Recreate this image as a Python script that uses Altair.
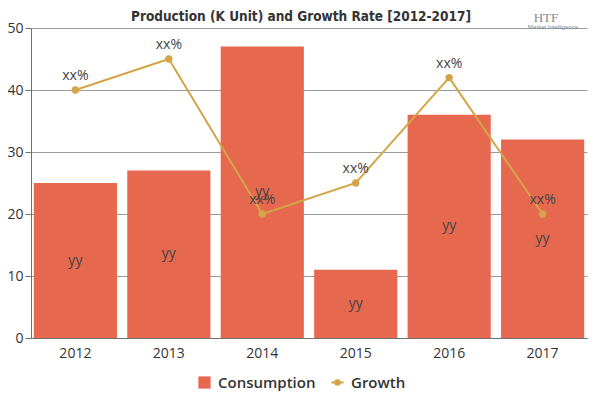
import altair as alt
import pandas as pd

title_text = "Production (K Unit) and Growth Rate [2012-2017]"
years = ["2012", "2013", "2014", "2015", "2016", "2017"]
consumption = [25, 27, 47, 11, 36, 32]
growth = [40, 45, 20, 25, 42, 20]
bar_labels = ["yy"] * 6
line_labels = ["xx%"] * 6

df = pd.DataFrame({
    "year": years,
    "consumption": consumption,
    "growth": growth,
    "half": [v / 2 for v in consumption],
    "bl": bar_labels,
    "ll": line_labels,
    "s_bar": ["Consumption"] * 6,
    "s_line": ["Growth"] * 6,
})

BAR = "#E6694F"
LINE = "#D4A548"
FONT = "Open Sans"

def make_legend(x, symbol):
    return alt.Legend(
        title=None, orient="none", direction="horizontal",
        legendX=x, legendY=347, symbolType=symbol,
        labelFont=FONT, labelFontSize=15, labelFontWeight=600, labelColor="#333333",
        symbolSize=150, symbolStrokeWidth=2, labelOffset=6,
    )

x = alt.X("year:N", title=None, sort=years,
          scale=alt.Scale(paddingInner=0.11, paddingOuter=0.03),
          axis=alt.Axis(labelAngle=0, ticks=False, labelPadding=8))
y_scale = alt.Scale(domain=[0, 50])
y_axis = alt.Axis(values=[0, 10, 20, 30, 40, 50], title=None, tickSize=6,
                  labelPadding=2, grid=True)

base = alt.Chart(df)

bars = base.mark_bar().encode(
    x=x,
    y=alt.Y("consumption:Q", scale=y_scale, axis=y_axis),
    color=alt.Color("s_bar:N", scale=alt.Scale(domain=["Consumption"], range=[BAR]),
                    legend=make_legend(166, "square")),
)

bar_text = base.mark_text(font=FONT, fontSize=14, color="#444444").encode(
    x=x, y=alt.Y("half:Q", scale=y_scale), text="bl:N",
)

line = base.mark_line(strokeWidth=2, point=alt.OverlayMarkDef(filled=True, size=55, opacity=1)).encode(
    x=x, y=alt.Y("growth:Q", scale=y_scale),
    color=alt.Color("s_line:N", scale=alt.Scale(domain=["Growth"], range=[LINE]),
                    legend=make_legend(299, "M-1,0L1,0M0.38,0A0.38,0.38 0 1,1 -0.38,0A0.38,0.38 0 1,1 0.38,0Z")),
)

line_text = base.mark_text(font=FONT, fontSize=14, color="#444444", dy=-14).encode(
    x=x, y=alt.Y("growth:Q", scale=y_scale), text="ll:N",
)

title = alt.Chart(pd.DataFrame({"t": [title_text]})).mark_text(
    font="Liberation Sans Narrow, DejaVu Sans Condensed", fontSize=13.5, fontWeight="bold",
    color="#333333", align="center", baseline="middle"
).encode(x=alt.value(270), y=alt.value(-11), text="t:N")

logo = alt.Chart(pd.DataFrame({"t": ["HTF"]})).mark_text(
    font="Liberation Serif", fontSize=13, color="#7A8A99", align="center"
).encode(x=alt.value(515), y=alt.value(-10), text="t:N")
logo2 = alt.Chart(pd.DataFrame({"t": ["Market Intelligence"]})).mark_text(
    font="Liberation Sans", fontSize=6, color="#7A8A99", align="center"
).encode(x=alt.value(522), y=alt.value(-1), text="t:N")

chart = alt.layer(bars, bar_text, line, line_text, title, logo, logo2).resolve_scale(
    color="independent"
).properties(
    width=556, height=310,
    autosize=alt.AutoSizeParams(type="none"),
    padding={"left": 23, "top": 20, "right": 4, "bottom": 54},
).configure_view(stroke=None).configure_axis(
    labelFont=FONT, labelFontSize=14, labelColor="#333333",
    domainColor="#707070", tickColor="#707070", gridColor="#9A9A9A",
    domainWidth=1, gridWidth=1,
)

chart.save("out.html", embed_options={"renderer": "svg", "actions": False})
